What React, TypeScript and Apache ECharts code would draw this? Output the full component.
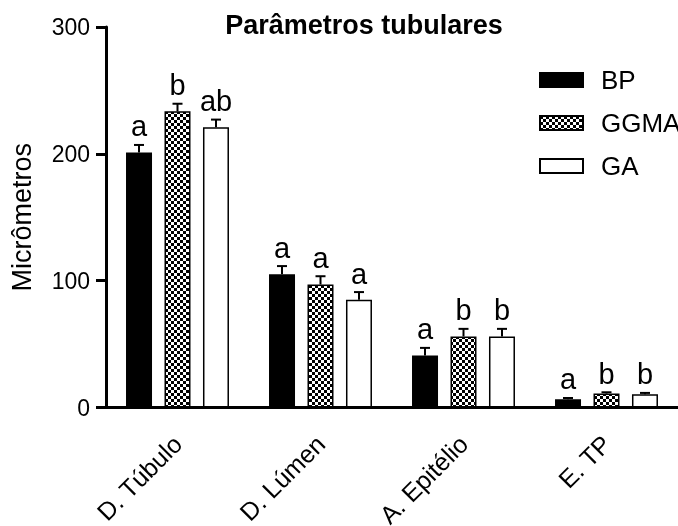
import React, { useEffect, useRef } from "react";
import * as echarts from "echarts";

const categories = ["D. Túbulo", "D. Lúmen", "A. Epitélio", "E. TP"];
const seriesNames = ["BP", "GGMA", "GA"];
const bpValues = [201, 105, 41, 6.5];
const bpErrors = [6, 6.5, 6, 1];
const ggmaValues = [233.5, 97, 56, 11];
const ggmaErrors = [6, 6.5, 6, 1];
const gaValues = [221, 85, 56, 10.5];
const gaErrors = [6, 6, 6, 1];
const bpLetters = ["a", "a", "a", "a"];
const ggmaLetters = ["b", "a", "b", "b"];
const gaLetters = ["ab", "a", "b", "b"];
const yTicks = [0, 100, 200, 300];

export default function App() {
  const ref = useRef<HTMLDivElement>(null);
  useEffect(() => {
    if (!ref.current) return;
    const chart = echarts.init(ref.current, null, { renderer: "svg" });

    const cv = document.createElement("canvas");
    cv.width = 6;
    cv.height = 6;
    const ctx = cv.getContext("2d")!;
    ctx.fillStyle = "#fff";
    ctx.fillRect(0, 0, 6, 6);
    ctx.fillStyle = "#000";
    ctx.fillRect(0, 0, 3, 3);
    ctx.fillRect(3, 3, 3, 3);
    const checker: any = { image: cv, repeat: "repeat" };

    const font = "Liberation Sans, Arial, sans-serif";
    const groups = [
      { name: "BP", values: bpValues, errors: bpErrors, letters: bpLetters, color: "#000", offset: -38.5 },
      { name: "GGMA", values: ggmaValues, errors: ggmaErrors, letters: ggmaLetters, color: checker, offset: 0 },
      { name: "GA", values: gaValues, errors: gaErrors, letters: gaLetters, color: "#fff", offset: 38.5 },
    ];

    const barSeries = groups.map((g) => ({
      name: g.name,
      type: "bar",
      data: g.values,
      barWidth: 26,
      barGap: "48%",
      itemStyle: { color: g.color, borderColor: "#000", borderWidth: 1.5 },
      z: 2,
    }));

    const errSeries = groups.map((g) => ({
      name: g.name + "-err",
      type: "custom",
      z: 3,
      data: g.values.map((v, i) => [i, v, g.errors[i]]),
      encode: { x: 0, y: 1 },
      renderItem: (params: any, api: any) => {
        const i = api.value(0);
        const v = api.value(1);
        const e = api.value(2);
        const base = api.coord([i, v]);
        const top = api.coord([i, v + e]);
        const x = base[0] + g.offset;
        return {
          type: "group",
          children: [
            { type: "line", shape: { x1: x, y1: base[1], x2: x, y2: top[1] }, style: { stroke: "#000", lineWidth: 2 } },
            { type: "line", shape: { x1: x - 5, y1: top[1], x2: x + 5, y2: top[1] }, style: { stroke: "#000", lineWidth: 2 } },
            {
              type: "text",
              x: x,
              y: top[1] - 4,
              style: {
                text: g.letters[params.dataIndex],
                font: `29px ${font}`,
                fill: "#000",
                align: "center",
                verticalAlign: "bottom",
              },
            },
          ],
        };
      },
    }));

    chart.setOption({
      animation: false,
      grid: { left: 106, right: 0, top: 27, bottom: 118.5, containLabel: false, outerBoundsMode: "none" },
      graphic: [
        {
          type: "text",
          x: 364,
          y: 11,
          style: { text: "Parâmetros tubulares", font: `bold 27px ${font}`, fill: "#000", align: "center" },
        },
      ],
      legend: {
        data: seriesNames,
        orient: "vertical",
        left: 534,
        top: 62,
        itemWidth: 43,
        itemHeight: 14,
        itemGap: 17,
        icon: "rect",
        textStyle: { fontSize: 26, fontFamily: font, color: "#000", lineHeight: 26, padding: [0, 0, 0, 13] },
      },
      xAxis: {
        type: "category",
        data: categories,
        axisLine: { lineStyle: { color: "#000", width: 3 } },
        axisTick: { alignWithLabel: true, length: 10, lineStyle: { color: "#000", width: 3 } },
        axisLabel: { rotate: 45, fontSize: 25, fontFamily: font, color: "#000", margin: 32, interval: 0 },
      },
      yAxis: {
        type: "value",
        min: yTicks[0],
        max: yTicks[yTicks.length - 1],
        interval: 100,
        name: "Micrômetros",
        nameLocation: "middle",
        nameGap: 71,
        nameTextStyle: { fontSize: 27, fontFamily: font, color: "#000" },
        axisLine: { show: true, lineStyle: { color: "#000", width: 3 } },
        axisTick: { show: true, length: 10, lineStyle: { color: "#000", width: 3 } },
        axisLabel: { fontSize: 23, fontFamily: font, color: "#000", margin: 16 },
        splitLine: { show: false },
      },
      series: [...barSeries, ...errSeries],
    });
    return () => chart.dispose();
  }, []);
  return <div ref={ref} style={{ position: "fixed", left: 0, top: 0, width: 678, height: 526 }} />;
}
